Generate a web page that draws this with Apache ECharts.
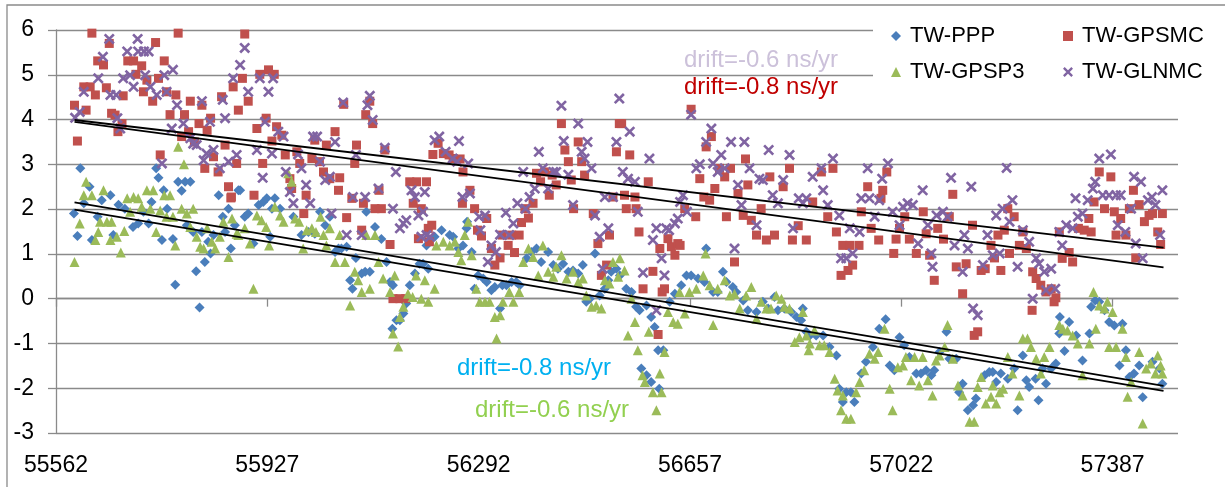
<!DOCTYPE html>
<html>
<head>
<meta charset="utf-8">
<script src="https://cdn.jsdelivr.net/npm/echarts@6/dist/echarts.min.js"></script>
<style>
    html, body { margin: 0; padding: 0; background: #fff; }
    #chart { width: 1225px; height: 487px; }
</style>
</head>
<body>
<div id="chart"></div>
<script>
// MJD tick labels and y range
var xTicks = [55562, 55927, 56292, 56657, 57022, 57387];
var yMin = -3, yMax = 6;

// TW-PPP  [mjd, ns]
var pppPts = [
    [55593,1.90],[55599,1.40],[55604,2.91],[55610,2.13],[55620,2.50],[55624,1.31],[55634,1.83],[55641,2.20],[55656,2.31],[55661,1.42],
    [55670,2.10],[55681,2.01],[55695,1.60],[55704,1.68],[55713,1.94],[55722,1.68],[55727,2.16],[55735,2.91],[55739,2.70],[55745,1.31],
    [55748,2.42],[55754,2.01],[55764,1.33],[55768,0.31],[55773,2.61],[55779,2.41],[55785,2.61],[55788,1.64],[55794,2.61],[55799,1.49],
    [55804,0.61],[55810,-0.20],[55814,1.49],[55819,0.82],[55825,1.27],[55829,1.01],[55834,1.42],[55843,2.31],[55850,1.83],[55854,1.49],
    [55860,2.01],[55864,1.12],[55871,1.64],[55877,2.42],[55880,2.42],[55888,1.83],[55894,1.90],[55903,1.23],[55912,2.09],[55920,2.16],
    [55926,2.24],[55932,1.38],[55935,2.01],[55940,2.24],[55949,2.01],[55972,1.83],[55986,1.42],[55998,1.49],[56009,1.45],[56018,1.94],
    [56027,1.64],[56035,1.83],[56044,1.04],[56050,1.12],[56055,1.12],[56064,1.16],[56070,0.41],[56074,0.22],[56080,0.91],[56090,0.56],
    [56096,0.60],[56098,1.94],[56104,0.60],[56113,1.60],[56124,1.33],[56133,0.82],[56139,0.37],[56143,-0.67],[56144,0.30],[56150,-0.48],
    [56156,-0.48],[56162,-0.33],[56167,-0.11],[56173,0.30],[56182,0.56],[56190,0.78],[56196,0.78],[56202,1.19],[56205,0.67],[56216,1.38],
    [56228,1.53],[56242,1.42],[56248,1.38],[56257,1.12],[56265,1.19],[56271,1.57],[56272,1.72],[56280,1.04],[56285,0.22],[56291,0.52],
    [56300,0.45],[56306,0.37],[56314,0.19],[56320,0.26],[56329,-0.22],[56333,0.30],[56340,0.30],[56349,0.37],[56357,0.37],[56363,0.30],
    [56375,0.90],[56383,1.04],[56392,1.12],[56400,0.82],[56412,1.04],[56421,0.75],[56429,0.67],[56438,0.78],[56447,0.60],[56455,0.63],
    [56464,0.56],[56472,0.75],[56478,-0.07],[56484,0.00],[56493,1.01],[56501,0.07],[56510,0.22],[56516,0.41],[56521,0.60],[56530,0.67],
    [56536,0.52],[56547,0.22],[56556,0.15],[56564,-0.18],[56570,-0.26],[56573,-1.56],[56582,-0.15],[56582,-1.71],[56590,-0.41],[56590,-1.86],
    [56596,-0.63],[56602,-1.15],[56604,-2.01],[56611,-1.15],[56622,-0.07],[56631,0.11],[56642,0.30],[56651,0.52],[56659,0.52],[56671,0.45],
    [56682,0.37],[56685,1.12],[56697,0.15],[56705,0.15],[56714,0.60],[56720,0.37],[56731,0.26],[56737,0.15],[56749,-0.04],[56757,-0.26],
    [56772,-0.30],[56783,-0.07],[56792,-0.22],[56803,0.04],[56809,-0.26],[56820,-0.22],[56832,-0.30],[56841,-0.41],[56849,-0.48],[56852,-0.22],
    [56858,-0.74],[56864,-0.82],[56875,-0.82],[56887,-0.82],[56898,-1.08],[56910,-1.27],[56915,-2.01],[56921,-2.31],[56927,-2.09],[56935,-2.09],
    [56941,-2.31],[56953,-1.67],[56961,-1.41],[56973,-1.08],[56984,-0.67],[56995,-0.46],[57002,-1.49],[57010,-1.60],[57019,-0.86],[57027,-1.04],
    [57036,-1.30],[57048,-1.67],[57056,-1.67],[57065,-1.60],[57074,-1.71],[57079,-1.60],[57088,-1.19],[57100,-0.74],[57105,-1.34],[57117,-1.34],
    [57122,-2.09],[57128,-1.90],[57137,-2.49],[57146,-2.38],[57151,-2.23],[57166,-1.71],[57174,-1.64],[57180,-1.64],[57186,-1.86],[57194,-1.67],
    [57206,-1.79],[57217,-1.56],[57223,-2.49],[57232,-1.27],[57238,-1.82],[57243,-1.97],[57254,-1.79],[57259,-2.27],[57266,-1.56],[57272,-1.90],
    [57281,-1.56],[57289,-1.45],[57295,-0.78],[57296,-0.41],[57304,-1.17],[57312,-0.52],[57324,-0.82],[57335,-1.38],[57347,-0.78],[57350,-0.18],
    [57357,-0.04],[57364,-0.07],[57373,-0.26],[57381,-0.52],[57390,-0.60],[57399,-1.49],[57404,-0.56],[57410,-1.15],[57416,-1.75],[57424,-1.67],
    [57433,-1.49],[57439,-2.20],[57456,-1.41],[57468,-1.56],[57473,-1.90]
];

// TW-GPSMC
var gpsmcPts = [
    [55594,4.32],[55599,3.52],[55610,4.73],[55614,4.21],[55621,4.73],[55624,5.93],[55630,4.55],[55634,5.31],[55644,5.22],[55649,4.71],
    [55654,5.70],[55658,4.14],[55664,4.10],[55669,3.73],[55676,3.91],[55678,4.53],[55686,5.31],[55696,5.31],[55700,5.01],[55710,5.20],
    [55713,4.62],[55719,4.88],[55729,4.41],[55734,5.72],[55739,4.92],[55742,3.21],[55749,5.31],[55753,4.62],[55759,4.11],[55769,4.55],
    [55773,5.93],[55779,3.62],[55784,4.11],[55791,3.73],[55794,4.41],[55801,3.50],[55809,3.91],[55814,4.32],[55819,2.91],[55823,3.76],
    [55829,4.03],[55834,3.17],[55842,2.83],[55848,4.51],[55854,3.43],[55860,2.50],[55864,2.25],[55865,2.27],[55868,4.73],[55874,3.02],
    [55877,4.21],[55884,4.92],[55888,5.91],[55894,4.41],[55904,2.31],[55909,3.80],[55914,5.01],[55919,3.02],[55925,4.03],[55929,5.11],
    [55935,3.52],[55939,5.01],[55943,3.84],[55952,3.65],[55958,3.21],[55966,2.68],[55969,2.46],[55978,3.28],[55983,3.02],[55990,1.90],
    [55994,2.31],[56004,3.13],[56009,3.54],[56017,3.06],[56024,2.83],[56029,3.43],[56035,2.68],[56044,3.73],[56050,2.42],[56052,2.70],
    [56059,4.34],[56064,1.81],[56073,2.24],[56078,3.02],[56081,3.43],[56090,1.53],[56093,2.13],[56097,4.11],[56104,4.41],[56109,3.91],
    [56113,2.01],[56120,2.42],[56124,2.01],[56130,3.32],[56139,1.21],[56144,0.00],[56156,0.00],[56166,0.00],[56173,2.61],[56179,2.13],
    [56185,2.61],[56188,1.34],[56193,2.01],[56202,2.61],[56205,1.57],[56207,1.27],[56211,1.64],[56213,3.22],[56222,3.47],[56231,3.24],
    [56241,3.21],[56248,3.13],[56260,3.12],[56264,2.13],[56265,2.83],[56277,2.42],[56285,2.01],[56290,1.53],[56297,1.40],[56306,1.79],
    [56314,1.12],[56320,0.75],[56329,0.91],[56333,1.42],[56343,1.19],[56349,1.42],[56354,1.03],[56362,1.42],[56366,1.70],[56372,2.01],
    [56378,1.80],[56386,2.13],[56392,2.80],[56399,2.61],[56406,2.83],[56414,2.31],[56419,2.76],[56426,2.54],[56435,3.91],[56441,3.32],
    [56447,3.06],[56452,2.65],[56456,2.01],[56464,3.50],[56470,3.06],[56475,2.76],[56490,1.90],[56498,1.23],[56504,0.52],[56513,0.75],
    [56518,1.42],[56524,2.27],[56530,3.28],[56535,3.91],[56539,3.91],[56544,2.31],[56547,2.01],[56553,3.21],[56562,2.27],[56564,2.01],
    [56569,1.49],[56576,0.22],[56585,2.61],[56593,0.61],[56602,-0.80],[56605,1.12],[56609,0.15],[56613,0.22],[56619,1.34],[56625,1.16],
    [56631,0.97],[56636,1.23],[56640,1.19],[56648,2.01],[56659,4.23],[56667,1.83],[56674,2.68],[56681,2.27],[56685,3.39],[56691,2.20],
    [56694,3.62],[56700,2.46],[56708,2.91],[56717,2.72],[56720,1.83],[56727,2.91],[56734,0.82],[56740,2.35],[56749,1.86],[56753,3.12],
    [56757,2.54],[56763,1.75],[56772,1.42],[56780,2.01],[56789,1.31],[56795,2.72],[56803,1.42],[56818,2.50],[56829,2.91],[56834,1.31],
    [56844,1.63],[56858,1.31],[56869,2.16],[56884,2.83],[56895,1.83],[56904,2.91],[56910,1.49],[56918,0.52],[56921,1.19],[56930,0.63],
    [56933,1.19],[56938,0.75],[56949,1.19],[56953,1.94],[56964,2.50],[56970,1.57],[56983,1.31],[56987,2.24],[56990,2.42],[56997,2.83],
    [57009,1.01],[57013,1.33],[57019,1.57],[57028,1.83],[57036,1.33],[57048,1.01],[57060,1.94],[57065,1.45],[57071,0.97],[57079,0.41],
    [57085,1.57],[57095,1.33],[57105,1.83],[57111,2.33],[57117,0.71],[57128,0.11],[57134,0.78],[57145,1.64],[57148,-0.82],[57154,-0.74],
    [57160,0.63],[57167,0.67],[57177,1.19],[57183,0.91],[57189,1.42],[57194,0.63],[57200,1.53],[57206,2.01],[57209,1.01],[57217,1.83],
    [57226,1.19],[57232,1.49],[57238,1.12],[57248,-0.26],[57249,0.60],[57255,0.45],[57263,0.30],[57272,0.15],[57281,0.22],[57286,-0.07],
    [57289,0.02],[57295,1.49],[57300,0.90],[57312,1.03],[57318,0.82],[57328,1.57],[57338,1.53],[57346,1.79],[57350,1.49],[57355,2.16],
    [57364,2.83],[57373,2.01],[57384,2.72],[57390,1.94],[57393,1.42],[57401,1.79],[57410,1.42],[57416,2.01],[57423,2.42],[57427,0.91],
    [57433,2.10],[57442,1.72],[57450,1.86],[57456,1.90],[57465,1.49],[57470,1.21],[57473,1.90]
];

// TW-GPSP3
var gpsp3Pts = [
    [55594,0.82],[55603,1.68],[55610,2.31],[55614,2.61],[55624,2.31],[55630,1.31],[55635,1.49],[55638,1.72],[55644,2.42],[55650,1.72],
    [55656,1.31],[55658,1.72],[55667,1.38],[55674,1.03],[55680,1.51],[55685,2.24],[55690,1.94],[55696,2.27],[55704,2.24],[55710,2.05],
    [55719,2.42],[55725,2.01],[55730,2.42],[55735,1.49],[55742,1.97],[55749,2.31],[55753,1.83],[55759,2.31],[55764,1.83],[55768,1.19],
    [55773,3.39],[55779,2.01],[55783,3.00],[55788,1.90],[55794,1.60],[55799,2.01],[55805,1.38],[55811,1.16],[55817,1.12],[55823,1.57],
    [55831,1.27],[55837,1.12],[55845,1.38],[55851,1.72],[55860,0.93],[55866,1.79],[55874,1.45],[55877,1.42],[55888,1.57],[55897,1.23],
    [55903,0.22],[55909,1.86],[55917,1.75],[55925,1.60],[55930,1.19],[55940,2.05],[55949,1.86],[55955,1.72],[55963,2.80],[55969,2.61],
    [55975,1.79],[55982,1.72],[55989,1.12],[55995,1.53],[56004,1.57],[56011,1.49],[56019,1.83],[56024,1.42],[56029,1.19],[56035,1.57],
    [56044,0.82],[56052,1.42],[56061,0.82],[56070,-0.15],[56078,0.60],[56084,0.41],[56090,0.15],[56098,1.42],[56104,0.22],[56113,1.42],
    [56119,0.82],[56127,0.45],[56139,0.15],[56144,-0.78],[56147,0.52],[56153,-1.07],[56156,-0.41],[56162,-0.18],[56170,0.11],[56178,0.04],
    [56184,0.52],[56193,0.00],[56199,0.41],[56205,-0.07],[56216,0.22],[56219,1.19],[56231,1.27],[56242,1.19],[56251,1.27],[56257,1.04],
    [56262,0.86],[56268,1.42],[56274,1.72],[56280,0.97],[56288,0.22],[56294,-0.07],[56303,-0.07],[56311,-0.07],[56320,-0.41],[56323,-0.89],
    [56329,-0.37],[56334,-0.07],[56345,0.15],[56352,-0.07],[56362,0.15],[56369,0.82],[56378,1.12],[56386,0.93],[56395,0.52],[56403,1.19],
    [56412,0.60],[56421,0.49],[56426,0.71],[56435,0.97],[56444,0.45],[56455,0.60],[56464,0.37],[56472,0.45],[56478,0.07],[56487,-0.18],
    [56495,-0.15],[56504,-0.22],[56510,0.41],[56518,0.34],[56524,0.82],[56533,0.49],[56536,0.90],[56544,0.63],[56550,-0.82],[56556,0.00],
    [56562,-0.52],[56567,-1.15],[56575,-1.71],[56579,-1.86],[56586,-0.74],[56593,-2.09],[56599,-2.49],[56605,-1.67],[56608,-2.09],[56613,-1.19],
    [56619,-0.30],[56628,-0.52],[56636,-0.56],[56639,0.15],[56648,-0.33],[56656,0.15],[56668,0.22],[56680,0.52],[56684,1.01],[56691,0.30],
    [56697,-0.59],[56705,0.22],[56717,0.41],[56726,0.07],[56734,0.11],[56743,-0.22],[56754,0.07],[56763,0.26],[56772,-0.45],[56780,-0.07],
    [56789,-0.22],[56797,-0.22],[56806,0.07],[56815,0.00],[56820,-0.18],[56829,-0.22],[56838,-0.97],[56846,-0.86],[56852,-0.30],[56858,-0.82],
    [56862,-1.15],[56864,-1.00],[56872,-0.71],[56881,-1.04],[56889,-1.04],[56898,-1.19],[56907,-1.79],[56912,-2.05],[56918,-2.49],[56921,-2.16],
    [56927,-2.68],[56935,-2.68],[56944,-2.09],[56950,-1.86],[56958,-1.60],[56967,-1.23],[56976,-1.34],[56982,-1.19],[56993,-0.67],[57002,-2.01],
    [57007,-2.49],[57016,-1.53],[57025,-1.49],[57030,-1.30],[57039,-1.82],[57045,-1.30],[57053,-1.94],[57059,-1.30],[57068,-1.82],[57076,-2.16],
    [57082,-1.38],[57088,-1.27],[57097,-1.08],[57102,-0.59],[57111,-1.34],[57120,-1.94],[57128,-2.16],[57140,-2.75],[57148,-2.75],[57154,-1.97],
    [57160,-1.75],[57168,-2.34],[57177,-2.19],[57180,-1.94],[57186,-2.34],[57192,-2.09],[57198,-2.01],[57206,-1.30],[57214,-1.67],[57226,-2.16],
    [57232,-0.89],[57240,-0.89],[57246,-1.08],[57255,-1.34],[57263,-1.67],[57269,-1.30],[57278,-1.08],[57295,-0.59],[57301,-0.67],[57309,-0.71],
    [57318,-0.82],[57327,-1.00],[57335,-1.71],[57347,-1.00],[57354,0.15],[57358,-0.67],[57364,-0.15],[57373,-0.22],[57378,-0.07],[57381,-1.08],
    [57387,-0.30],[57393,-1.08],[57404,-0.67],[57410,-1.30],[57413,-2.19],[57419,-1.86],[57433,-1.19],[57439,-2.79],[57445,-1.56],[57453,-1.45],
    [57461,-1.67],[57465,-1.27],[57470,-1.49],[57473,-1.67]
];

// TW-GLNMC
var glnmcPts = [
    [55595,4.04],[55603,4.17],[55610,4.62],[55624,6.02],[55635,4.92],[55643,5.40],[55654,5.80],[55656,4.55],[55666,4.55],[55668,4.03],
    [55673,3.80],[55678,4.92],[55685,5.52],[55690,4.99],[55696,4.73],[55703,5.80],[55704,5.52],[55714,5.52],[55716,4.99],[55722,5.52],
    [55725,4.73],[55736,4.55],[55745,3.02],[55749,4.99],[55753,4.62],[55762,3.80],[55764,5.11],[55771,4.32],[55773,6.02],[55782,3.91],
    [55794,3.58],[55799,3.46],[55805,3.43],[55814,4.41],[55817,3.09],[55822,3.24],[55828,3.95],[55834,3.32],[55845,2.91],[55850,4.44],
    [55854,4.03],[55860,3.06],[55868,4.92],[55874,3.21],[55880,5.22],[55888,5.60],[55894,4.62],[55909,3.32],[55914,4.92],[55919,2.70],
    [55923,3.95],[55929,4.62],[55935,3.24],[55937,4.92],[55946,3.73],[55955,3.62],[55959,2.83],[55966,2.38],[55972,2.13],[55980,3.22],
    [55986,2.91],[55994,2.54],[56001,2.13],[56006,3.62],[56013,3.62],[56018,3.06],[56027,2.65],[56035,2.72],[56038,1.90],[56044,3.50],
    [56058,4.38],[56064,1.42],[56075,2.27],[56080,3.21],[56090,1.42],[56096,2.27],[56100,4.32],[56104,4.53],[56109,3.99],[56119,2.46],
    [56130,3.37],[56144,2.01],[56149,2.83],[56156,1.57],[56162,1.68],[56167,1.75],[56176,2.42],[56182,2.27],[56188,1.86],[56193,1.38],
    [56196,1.94],[56199,2.38],[56202,1.42],[56208,1.38],[56216,3.54],[56224,3.62],[56235,3.28],[56247,3.13],[56255,3.06],[56258,3.52],
    [56264,2.27],[56274,3.02],[56277,2.35],[56293,1.83],[56295,1.53],[56303,1.86],[56308,0.82],[56314,1.19],[56322,1.04],[56329,1.43],
    [56339,1.92],[56345,1.42],[56352,1.68],[56359,2.13],[56369,2.83],[56373,2.01],[56380,2.27],[56389,2.46],[56396,3.28],[56403,2.91],
    [56412,2.46],[56421,2.83],[56426,2.83],[56435,4.31],[56439,3.52],[56447,2.77],[56455,2.09],[56464,3.91],[56470,3.28],[56475,3.13],
    [56480,3.50],[56487,2.91],[56493,1.86],[56501,1.38],[56506,0.67],[56510,2.27],[56516,1.57],[56524,2.27],[56530,3.50],[56535,4.47],
    [56541,2.83],[56550,2.68],[56553,3.73],[56562,2.61],[56567,1.94],[56576,0.58],[56587,3.13],[56593,1.31],[56599,1.57],[56599,-0.26],
    [56608,0.90],[56613,0.52],[56616,1.57],[56621,1.53],[56631,1.68],[56636,1.79],[56640,2.16],[56645,2.31],[56652,1.94],[56659,4.11],
    [56668,2.91],[56674,3.00],[56685,3.50],[56694,3.80],[56697,3.02],[56705,2.83],[56711,3.21],[56717,2.91],[56728,3.50],[56734,1.12],
    [56740,2.54],[56746,2.09],[56751,3.50],[56760,2.91],[56772,1.64],[56777,2.68],[56783,2.65],[56793,3.32],[56800,2.31],[56809,2.13],
    [56818,2.65],[56829,3.21],[56835,1.57],[56845,2.24],[56852,2.13],[56858,2.24],[56869,2.72],[56884,2.91],[56887,2.42],[56895,2.09],
    [56904,3.13],[56915,1.86],[56918,0.90],[56927,0.90],[56933,1.57],[56938,1.01],[56950,1.49],[56953,2.24],[56964,2.91],[56967,2.24],
    [56976,1.83],[56984,2.20],[56989,2.68],[56999,3.02],[57007,1.94],[57019,1.64],[57025,2.05],[57033,2.13],[57042,2.09],[57051,1.23],
    [57059,2.42],[57068,1.64],[57074,1.01],[57076,0.71],[57083,1.86],[57094,1.94],[57102,1.83],[57108,2.70],[57114,1.19],[57128,0.60],
    [57131,1.42],[57137,1.12],[57143,2.50],[57146,-0.22],[57154,-0.37],[57163,0.75],[57171,1.42],[57180,0.97],[57186,1.86],[57192,1.01],
    [57197,2.01],[57204,2.92],[57209,1.72],[57214,2.20],[57223,0.71],[57232,1.53],[57243,1.27],[57249,0.00],[57255,0.90],[57260,0.78],
    [57269,0.60],[57272,0.19],[57281,0.67],[57288,0.22],[57295,1.49],[57300,1.19],[57307,1.64],[57318,1.57],[57323,2.24],[57327,1.83],
    [57335,1.90],[57344,2.20],[57353,2.46],[57357,2.61],[57364,3.13],[57370,2.31],[57381,2.31],[57384,3.22],[57393,2.31],[57396,1.64],
    [57401,2.31],[57409,1.49],[57419,2.01],[57424,2.72],[57427,1.23],[57436,2.61],[57439,0.90],[57448,2.20],[57455,2.27],[57461,2.09],
    [57469,1.42],[57473,2.42]
];

// linear trend lines (end points)
var glnmcTrend = [[55594, 3.99], [57475, 1.14]];
var gpsmcTrend = [[55594, 3.95], [57475, 0.70]];
var pppTrend = [[55594, 2.15], [57475, -1.95]];
var gpsp3Trend = [[55594, 1.99], [57475, -2.06]];

var FONT = 'Liberation Sans, Arial, sans-serif';
var GREY = '#8a8a8a';
// an "x" marker drawn as two filled bars
var crossPath = 'path://M0,1.7L1.7,0L10,8.3L8.3,10ZM8.3,0L10,1.7L1.7,10L0,8.3Z';

var chart = echarts.init(document.getElementById('chart'), null, { renderer: 'canvas' });

var scatter = function(name, data, symbol, size, color) {
    return {
        name: name,
        type: 'scatter',
        data: data,
        symbol: symbol,
        symbolSize: size,
        itemStyle: { color: color, opacity: 1 },
        emphasis: { disabled: true },
        z: 2
    };
};
var trend = function(name, data) {
    return {
        name: name,
        type: 'line',
        data: data,
        symbol: 'none',
        silent: true,
        lineStyle: { color: '#000', width: 1.8 },
        z: 3
    };
};
var legendBox = function(left, names) {
    return {
        data: names,
        orient: 'vertical',
        left: left,
        top: 24,
        padding: 0,
        itemWidth: 10,
        itemHeight: 10,
        itemGap: 12,
        selectedMode: false,
        z: 10,
        textStyle: { fontSize: 22, fontFamily: FONT, color: '#000', lineHeight: 24, padding: [0, 0, 0, 4] }
    };
};

chart.setOption({
    animation: false,
    backgroundColor: '#fff',
    grid: { left: 56, right: 47, top: 30, bottom: 54 },
    legend: [
        legendBox(891, ['TW-PPP', 'TW-GPSP3']),
        legendBox(1063, ['TW-GPSMC', 'TW-GLNMC'])
    ],
    xAxis: {
        type: 'value',
        min: 55562,
        max: 57500,
        interval: 365,
        axisLine: { show: true, lineStyle: { color: GREY, width: 1.3 } },
        axisTick: { show: true, length: 8, lineStyle: { color: GREY, width: 1.3 }, customValues: xTicks },
        axisLabel: {
            fontSize: 23, fontFamily: FONT, color: '#000', margin: 21, customValues: xTicks,
            formatter: function(v) { return String(v); }
        },
        splitLine: { show: false }
    },
    yAxis: {
        type: 'value',
        min: yMin,
        max: yMax,
        interval: 1,
        axisLine: { show: true, lineStyle: { color: GREY, width: 1.3 } },
        axisTick: { show: true, length: 8, lineStyle: { color: GREY, width: 1.3 } },
        axisLabel: { fontSize: 23, fontFamily: FONT, color: '#000', margin: 22 },
        splitLine: { show: true, lineStyle: { color: GREY, width: 1.3 } }
    },
    graphic: [
        { type: 'rect', silent: true, z: 0, shape: { x: 7, y: 5, width: 1240, height: 500 },
          style: { fill: 'none', stroke: GREY, lineWidth: 1.3 } },
        { type: 'rect', silent: true, z: 5, shape: { x: 873, y: 12, width: 345, height: 88 },
          style: { fill: '#fff' } },
        { type: 'text', silent: true, z: 6, x: 684, y: 60,
          style: { text: 'drift=-0.6 ns/yr', fill: '#ccc1da', font: '24px ' + FONT, verticalAlign: 'middle' } },
        { type: 'text', silent: true, z: 6, x: 684, y: 87,
          style: { text: 'drift=-0.8 ns/yr', fill: '#c00000', font: '24px ' + FONT, verticalAlign: 'middle' } },
        { type: 'text', silent: true, z: 6, x: 457, y: 368,
          style: { text: 'drift=-0.8 ns/yr', fill: '#00b0f0', font: '24px ' + FONT, verticalAlign: 'middle' } },
        { type: 'text', silent: true, z: 6, x: 475, y: 410,
          style: { text: 'drift=-0.6 ns/yr', fill: '#92d050', font: '24px ' + FONT, verticalAlign: 'middle' } }
    ],
    series: [
        scatter('TW-PPP', pppPts, 'diamond', 10, '#4a7ebb'),
        scatter('TW-GPSMC', gpsmcPts, 'rect', 9, '#c0504d'),
        scatter('TW-GPSP3', gpsp3Pts, 'triangle', 10, '#9bbb59'),
        scatter('TW-GLNMC', glnmcPts, crossPath, 11, '#8064a2'),
        trend('trend-glnmc', glnmcTrend),
        trend('trend-gpsmc', gpsmcTrend),
        trend('trend-ppp', pppTrend),
        trend('trend-gpsp3', gpsp3Trend)
    ]
});
</script>
</body>
</html>
